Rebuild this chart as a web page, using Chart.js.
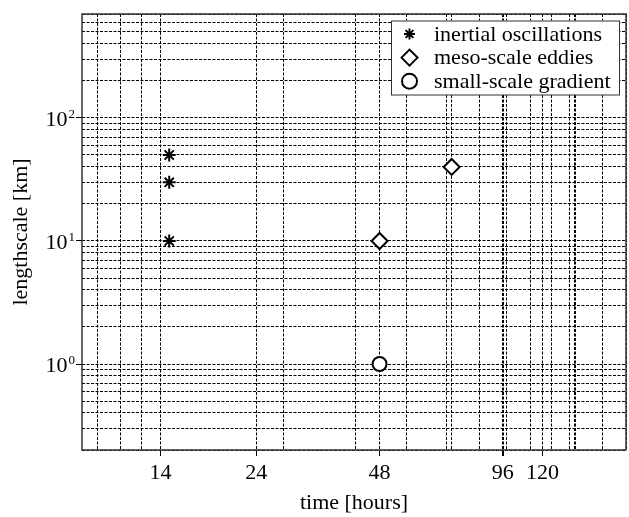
<!DOCTYPE html>
<html>
<head>
<meta charset="utf-8">
<script src="https://cdn.jsdelivr.net/npm/chart.js@4/dist/chart.umd.min.js"></script>
<style>
  body { margin: 0; background: #fff; }
  #wrap { width: 629px; height: 517px; }
</style>
</head>
<body>
<div id="wrap"><canvas id="scales-chart" width="629" height="517"></canvas></div>
<script>
// observations: time in hours, lengthscale in km
const inertialTime = [14.7, 14.7, 14.7]
const inertialLength = [50, 30, 10]
const mesoTime = [48, 72]
const mesoLength = [10, 40]
const smallTime = [48]
const smallLength = [1]

// labelled ticks
const xTicks = [14, 24, 48, 96, 120]
const yTicks = [1, 10, 100]
const yExponents = ['0', '1', '2']

// vertical grid lines (hours)
const xGrid = [9.8, 11.2, 12.6, 14, 24, 28, 42, 48, 56, 70, 72, 84, 96, 98, 112, 120, 126, 140, 144, 168, 192]
const xHeavy = [96, 144]

// horizontal grid: every 1..9 x 10^n between the axis limits
const yGrid = []
;[0.1, 1, 10, 100].forEach(d => {
  for (let m = 1; m <= 9; m++) {
    const v = Number((m * d).toPrecision(3))
    if (v >= 0.2 && v <= 700) yGrid.push(v)
  }
})

const serif = '"Liberation Serif", "Times New Roman", serif'

const frame = {
  id: 'frame',
  afterDatasetsDraw(chart) {
    const {ctx, chartArea: {left, top, right, bottom}} = chart
    ctx.save()
    ctx.strokeStyle = '#333'
    ctx.lineWidth = 1.5
    ctx.strokeRect(left, top, right - left, bottom - top)
    ctx.restore()
  }
}

// 10^n labels on the y axis
const powerLabels = {
  id: 'powerLabels',
  afterDraw(chart) {
    const {ctx} = chart
    const yScale = chart.scales.y
    const edge = yScale.right - 7
    ctx.save()
    ctx.fillStyle = '#000'
    ctx.textAlign = 'right'
    ctx.textBaseline = 'alphabetic'
    yTicks.forEach((v, i) => {
      const py = yScale.getPixelForValue(v)
      ctx.font = '13px ' + serif
      const expW = ctx.measureText(yExponents[i]).width
      ctx.fillText(yExponents[i], edge, py)
      ctx.font = '22px ' + serif
      ctx.fillText('10', edge - expW - 1, py + 8)
    })
    ctx.restore()
  }
}

const legendBox = {
  id: 'legendBox',
  afterDraw(chart) {
    const {ctx, chartArea} = chart
    const w = 228, h = 74
    const x0 = chartArea.right - 7 - w
    const y0 = chartArea.top + 6.5
    ctx.save()
    ctx.fillStyle = '#fff'
    ctx.fillRect(x0, y0, w, h)
    ctx.strokeStyle = '#333'
    ctx.lineWidth = 1
    ctx.strokeRect(x0 + 0.5, y0 + 0.5, w, h)
    chart.data.datasets.forEach((ds, i) => {
      const cy = y0 + 13.5 + i * 23.6
      ctx.lineWidth = 2
      ctx.strokeStyle = '#000'
      ctx.fillStyle = '#fff'
      Chart.helpers.drawPoint(ctx, {
        pointStyle: ds.pointStyle,
        radius: ds.legendRadius,
        borderWidth: 2,
        rotation: 0
      }, x0 + 18.5, cy)
      ctx.fillStyle = '#000'
      ctx.font = '22px ' + serif
      ctx.textAlign = 'left'
      ctx.textBaseline = 'middle'
      ctx.fillText(ds.label, x0 + 43, cy + 1)
    })
    ctx.restore()
  }
}

const toPoints = (xs, ys) => xs.map((x, i) => ({x: x, y: ys[i]}))

const data = {
  datasets: [{
    label: 'inertial oscillations',
    data: toPoints(inertialTime, inertialLength),
    pointStyle: 'star',
    pointRadius: 6.5,
    legendRadius: 5.5,
    borderColor: '#000',
    backgroundColor: '#000',
    borderWidth: 2
  }, {
    label: 'meso-scale eddies',
    data: toPoints(mesoTime, mesoLength),
    pointStyle: 'rectRot',
    pointRadius: 8,
    legendRadius: 8,
    borderColor: '#000',
    backgroundColor: '#fff',
    borderWidth: 2
  }, {
    label: 'small-scale gradient',
    data: toPoints(smallTime, smallLength),
    pointStyle: 'circle',
    pointRadius: 7,
    legendRadius: 7.5,
    borderColor: '#000',
    backgroundColor: '#fff',
    borderWidth: 2
  }]
}

const config = {
  type: 'scatter',
  data: data,
  options: {
    responsive: false,
    animation: false,
    devicePixelRatio: 1,
    layout: {
      autoPadding: false,
      padding: {top: 14, right: 3, bottom: 0, left: 0}
    },
    plugins: {
      legend: {display: false},
      tooltip: {enabled: false}
    },
    scales: {
      x: {
        type: 'logarithmic',
        min: 9,
        max: 192,
        afterBuildTicks: (scale) => {
          scale.ticks = xGrid.map(v => ({value: v, major: xTicks.includes(v)}))
        },
        afterFit: (scale) => {
          scale.height = 67
          scale.paddingLeft = 0
          scale.paddingRight = 0
        },
        ticks: {
          autoSkip: false,
          maxRotation: 0,
          padding: 4,
          color: '#000',
          font: {family: serif, size: 22},
          callback: (v) => xTicks.includes(v) ? String(v) : ''
        },
        grid: {
          color: '#000',
          lineWidth: (ctx) => ctx.tick && xHeavy.includes(ctx.tick.value) ? 2 : 1,
          tickLength: 6,
          tickColor: (ctx) => ctx.tick && xTicks.includes(ctx.tick.value) ? '#000' : 'rgba(0,0,0,0)'
        },
        border: {display: false, dash: [3, 1.5]},
        title: {
          display: true,
          text: 'time [hours]',
          color: '#000',
          font: {family: serif, size: 22},
          padding: {top: 0, bottom: 1}
        }
      },
      y: {
        type: 'logarithmic',
        min: 0.2,
        max: 700,
        afterBuildTicks: (scale) => {
          scale.ticks = yGrid.map(v => ({value: v, major: yTicks.includes(v)}))
        },
        afterFit: (scale) => {
          scale.width = 82
          scale.paddingTop = 0
          scale.paddingBottom = 0
        },
        ticks: {
          autoSkip: false,
          color: '#000',
          font: {family: serif, size: 22},
          callback: () => ''
        },
        grid: {
          color: '#000',
          lineWidth: 1,
          tickLength: 6,
          tickColor: (ctx) => ctx.tick && yTicks.includes(ctx.tick.value) ? '#000' : 'rgba(0,0,0,0)'
        },
        border: {display: false, dash: [3, 1.5]},
        title: {
          display: true,
          text: 'lengthscale [km]',
          color: '#000',
          font: {family: serif, size: 22},
          padding: {top: 8, bottom: 0}
        }
      }
    }
  },
  plugins: [frame, powerLabels, legendBox]
}

const scalesChart = new Chart(document.getElementById('scales-chart'), config)
</script>
</body>
</html>
